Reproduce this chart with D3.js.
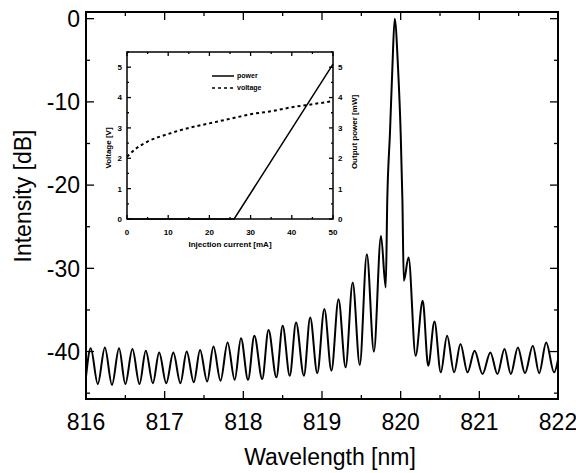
<!DOCTYPE html>
<html>
<head>
<meta charset="utf-8">
<script src="https://cdn.jsdelivr.net/npm/d3@7"></script>
<style>
  body { margin: 0; background: #fff; }
  svg text { font-family: "Liberation Sans", Arial, sans-serif; fill: #000; }
</style>
</head>
<body>
<div id="chart"></div>
<script>
// spectrum (peaks and troughs)
var wavelength = [816.00, 816.06, 816.15, 816.24, 816.33, 816.42, 816.50, 816.59, 816.68, 816.76,
  816.85, 816.93, 817.02, 817.11, 817.20, 817.28, 817.37, 817.45, 817.54, 817.62,
  817.71, 817.80, 817.89, 817.97, 818.06, 818.14, 818.24, 818.32, 818.42, 818.50,
  818.59, 818.67, 818.77, 818.85, 818.94, 819.03, 819.12, 819.21, 819.30, 819.39,
  819.48, 819.57, 819.66, 819.75, 819.81, 819.83, 819.864, 819.895, 819.924, 819.966,
  820.00, 820.022, 820.04, 820.10, 820.19, 820.28, 820.35, 820.43, 820.51, 820.59,
  820.68, 820.76, 820.85, 820.94, 821.04, 821.14, 821.23, 821.32, 821.40, 821.49,
  821.58, 821.68, 821.76, 821.85, 821.95, 822.00];
var intensity = [-43.0, -39.6, -43.9, -39.5, -44.0, -39.6, -43.9, -39.7, -43.9, -39.9,
  -43.8, -40.1, -43.8, -40.1, -43.8, -40.0, -43.7, -39.8, -43.6, -39.4,
  -43.5, -38.9, -43.4, -38.4, -43.4, -38.1, -43.3, -37.4, -43.1, -36.9,
  -42.9, -36.5, -42.9, -35.9, -42.6, -34.9, -42.3, -33.7, -41.9, -31.7,
  -41.6, -28.3, -40.0, -26.1, -32.3, -21.7, -13.7, -5.8, 0.0, -5.8,
  -13.7, -21.7, -31.5, -28.7, -40.5, -33.9, -41.7, -36.4, -42.5, -38.1,
  -42.5, -39.1, -42.5, -39.9, -42.7, -40.1, -42.7, -39.7, -42.7, -39.5,
  -42.6, -39.3, -42.6, -38.9, -42.5, -41.0];

var xTicks = [816, 817, 818, 819, 820, 821, 822];
var yTicks = [0, -10, -20, -30, -40];

// inset: L-I-V
var currentV = [0, 2, 5, 10, 15, 20, 25, 30, 35, 40, 45, 50];
var voltage = [2.05, 2.3, 2.55, 2.8, 3.0, 3.15, 3.3, 3.45, 3.55, 3.68, 3.78, 3.88];
var currentP = [0, 26, 50];
var power = [0, 0, 5.1];
var insetXTicks = [0, 10, 20, 30, 40, 50];
var insetYTicks = [0, 1, 2, 3, 4, 5];

var W = 576, H = 473;
var svg = d3.select("#chart").append("svg")
    .attr("width", W)
    .attr("height", H);

var x = d3.scaleLinear().domain([816, 822]).range([86, 558]),
    y = d3.scaleLinear().domain([-45.7, 0.8]).range([399, 12]);

var spec = wavelength.map(function(w, i) { return [w, intensity[i]]; });

svg.append("clipPath").attr("id", "clip")
  .append("rect")
    .attr("x", 86).attr("y", 12)
    .attr("width", 472).attr("height", 387);

svg.append("path")
    .datum(spec)
    .attr("clip-path", "url(#clip)")
    .attr("fill", "none")
    .attr("stroke", "#000")
    .attr("stroke-width", 2)
    .attr("stroke-linejoin", "round")
    .attr("d", d3.line()
      .curve(d3.curveMonotoneX)
      .x(function(d) { return x(d[0]); })
      .y(function(d) { return y(d[1]); }));

// frame + inward ticks
function frame(g, xs, ys, major, minor, xt, xm, yt, ym) {
  var x0 = xs.range()[0], x1 = xs.range()[1],
      y0 = ys.range()[0], y1 = ys.range()[1];
  g.append("rect")
      .attr("x", x0).attr("y", y1)
      .attr("width", x1 - x0).attr("height", y0 - y1)
      .attr("fill", "none").attr("stroke", "#000").attr("stroke-width", major);
  xm.forEach(function(v, i) {
    var len = xt.indexOf(v) >= 0 ? minor * 2 : minor;
    g.append("line").attr("x1", xs(v)).attr("x2", xs(v)).attr("y1", y0).attr("y2", y0 - len)
        .attr("stroke", "#000").attr("stroke-width", 1.3);
    g.append("line").attr("x1", xs(v)).attr("x2", xs(v)).attr("y1", y1).attr("y2", y1 + len)
        .attr("stroke", "#000").attr("stroke-width", 1.3);
  });
  ym.forEach(function(v) {
    var len = yt.indexOf(v) >= 0 ? minor * 2 : minor;
    g.append("line").attr("x1", x0).attr("x2", x0 + len).attr("y1", ys(v)).attr("y2", ys(v))
        .attr("stroke", "#000").attr("stroke-width", 1.3);
    g.append("line").attr("x1", x1).attr("x2", x1 - len).attr("y1", ys(v)).attr("y2", ys(v))
        .attr("stroke", "#000").attr("stroke-width", 1.3);
  });
}

var main = svg.append("g");
frame(main, x, y, 2, 4,
  xTicks, d3.range(816, 822.01, 0.5).map(function(v) { return +v.toFixed(1); }),
  yTicks, [0, -5, -10, -15, -20, -25, -30, -35, -40, -45]);

main.selectAll(".xl").data(xTicks).enter().append("text")
    .attr("x", function(d) { return x(d); })
    .attr("y", 430)
    .attr("text-anchor", "middle")
    .style("font-size", "23px")
    .text(function(d) { return d; });

main.selectAll(".yl").data(yTicks).enter().append("text")
    .attr("x", 80)
    .attr("y", function(d) { return y(d); })
    .attr("dy", "0.36em")
    .attr("text-anchor", "end")
    .style("font-size", "23px")
    .text(function(d) { return d; });

main.append("text")
    .attr("x", 330).attr("y", 465)
    .attr("text-anchor", "middle")
    .style("font-size", "23px")
    .text("Wavelength [nm]");

main.append("text")
    .attr("transform", "translate(31,196) rotate(-90)")
    .attr("text-anchor", "middle")
    .style("font-size", "23px")
    .text("Intensity [dB]");

// inset
var ix = d3.scaleLinear().domain([0, 50]).range([127, 333]),
    iy = d3.scaleLinear().domain([0, 5.5]).range([219, 52]);

var inset = svg.append("g");
inset.append("rect")
    .attr("x", 127).attr("y", 52).attr("width", 206).attr("height", 167)
    .attr("fill", "#fff");

inset.append("path")
    .datum(currentV.map(function(c, i) { return [c, voltage[i]]; }))
    .attr("fill", "none")
    .attr("stroke", "#000")
    .attr("stroke-width", 2)
    .attr("stroke-dasharray", "3,3")
    .attr("d", d3.line().curve(d3.curveMonotoneX)
      .x(function(d) { return ix(d[0]); })
      .y(function(d) { return iy(d[1]); }));

inset.append("path")
    .datum(currentP.map(function(c, i) { return [c, power[i]]; }))
    .attr("fill", "none")
    .attr("stroke", "#000")
    .attr("stroke-width", 1.5)
    .attr("d", d3.line()
      .x(function(d) { return ix(d[0]); })
      .y(function(d) { return iy(d[1]); }));

frame(inset, ix, iy, 1.5, 2,
  insetXTicks, d3.range(0, 51, 5),
  insetYTicks, d3.range(0, 5.51, 0.5).map(function(v) { return +v.toFixed(1); }));

inset.selectAll(".ixl").data(insetXTicks).enter().append("text")
    .attr("x", function(d) { return ix(d); })
    .attr("y", 235)
    .attr("text-anchor", "middle")
    .style("font-size", "8px").style("font-weight", "bold")
    .text(function(d) { return d; });

inset.selectAll(".iyl").data(insetYTicks).enter().append("text")
    .attr("x", 122)
    .attr("y", function(d) { return iy(d); })
    .attr("dy", "0.36em")
    .attr("text-anchor", "end")
    .style("font-size", "8px").style("font-weight", "bold")
    .text(function(d) { return d; });

inset.selectAll(".iyr").data(insetYTicks).enter().append("text")
    .attr("x", 338)
    .attr("y", function(d) { return iy(d); })
    .attr("dy", "0.36em")
    .style("font-size", "8px").style("font-weight", "bold")
    .text(function(d) { return d; });

inset.append("text")
    .attr("x", 230).attr("y", 247)
    .attr("text-anchor", "middle")
    .style("font-size", "8px").style("font-weight", "bold")
    .text("Injection current [mA]");

inset.append("text")
    .attr("transform", "translate(111,148) rotate(-90)")
    .attr("text-anchor", "middle")
    .style("font-size", "8px").style("font-weight", "bold")
    .text("Voltage [V]");

inset.append("text")
    .attr("transform", "translate(357,132) rotate(-90)")
    .attr("text-anchor", "middle")
    .style("font-size", "8px").style("font-weight", "bold")
    .text("Output power [mW]");

// legend
var legend = [["power", null], ["voltage", "3,3"]];
legend.forEach(function(l, i) {
  var ly = 76 + i * 12;
  inset.append("line")
      .attr("x1", 212).attr("x2", 234).attr("y1", ly).attr("y2", ly)
      .attr("stroke", "#000").attr("stroke-width", 1.5)
      .attr("stroke-dasharray", l[1]);
  inset.append("text")
      .attr("x", 237).attr("y", ly).attr("dy", "0.35em")
      .style("font-size", "7px").style("font-weight", "bold")
      .text(l[0]);
});
</script>
</body>
</html>
